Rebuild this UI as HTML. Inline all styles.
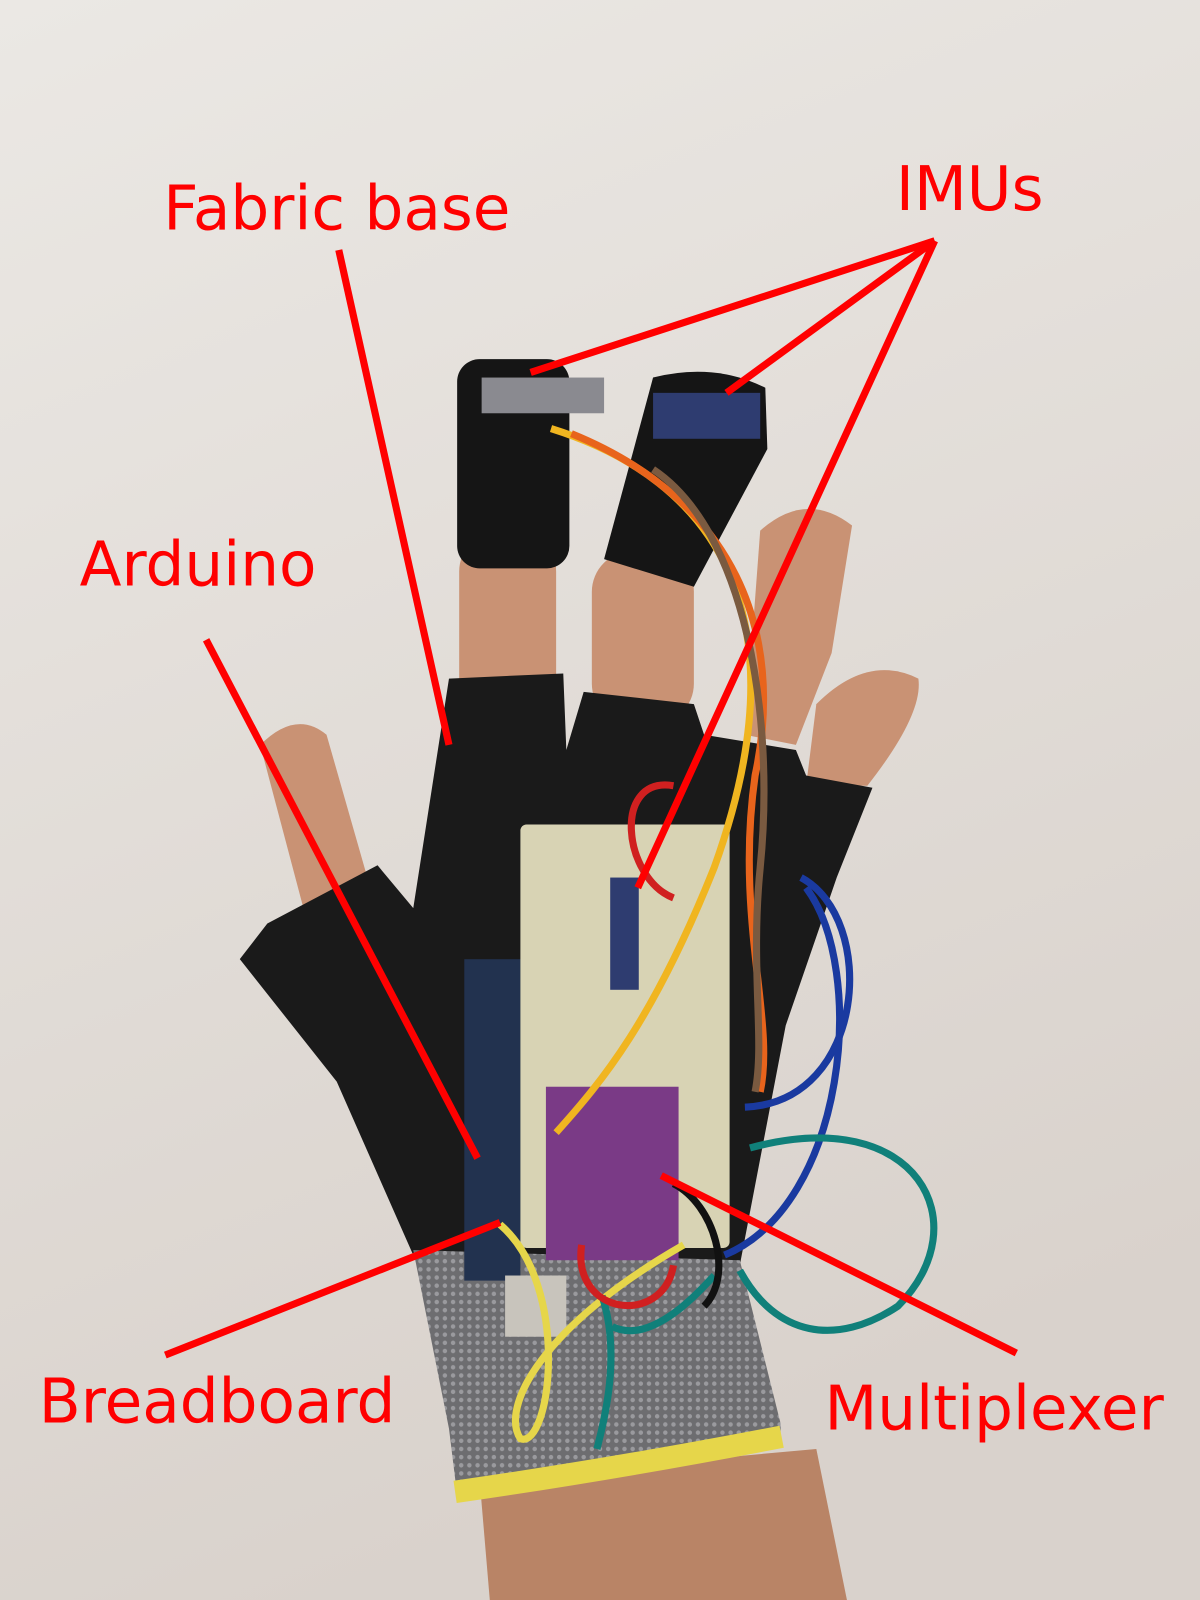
<!DOCTYPE html>
<html><head><meta charset="utf-8"><style>
html,body{margin:0;padding:0;background:#e6e2dd;}
svg{display:block}
.lbl{font-family:"DejaVu Sans","Liberation Sans",sans-serif;font-size:60px;fill:#ff0000}
</style></head><body>
<svg width="1200" height="1600" viewBox="0 0 1176 1568" preserveAspectRatio="none">
<defs>
<linearGradient id="bg" x1="0" y1="0" x2="0.3" y2="1">
<stop offset="0" stop-color="#ebe8e4"/><stop offset="1" stop-color="#d9d2cc"/></linearGradient>
<pattern id="knit" width="8" height="8" patternUnits="userSpaceOnUse">
<rect width="8" height="8" fill="#6d6d70"/><circle cx="4" cy="4" r="2.2" fill="#9a9a9e"/></pattern>
</defs>
<rect width="1176" height="1568" fill="url(#bg)"/>
<path d="M470,1450 L800,1420 L830,1568 L480,1568 Z" fill="#b98466"/>
<g fill="#c99274">
<rect x="450" y="520" width="95" height="190" rx="40"/>
<rect x="580" y="540" width="100" height="170" rx="40"/>
<path d="M745,520 Q790,480 835,515 L815,640 L780,730 L730,720 Z"/>
<path d="M800,690 Q850,640 900,665 Q905,700 850,770 L790,770 Z"/>
<path d="M255,730 Q290,695 320,720 L360,860 L300,900 Z"/>
</g>
<rect x="448" y="352" width="110" height="205" rx="22" fill="#151515"/>
<path d="M640,370 Q700,355 750,380 L752,440 L680,575 L592,548 Z" fill="#151515"/>
<path d="M440,665 L552,660 L555,735 L572,678 L680,690 L690,720 L780,735 L790,760 L855,772 L820,860 L770,1005 L725,1240 L460,1265 L405,1230 L330,1060 L235,940 L262,905 L370,848 L405,890 Z" fill="#1a1a1a"/>
<path d="M405,1225 L725,1235 L765,1395 L765,1415 L448,1465 L440,1400 Z" fill="url(#knit)"/>
<path d="M446,1462 Q600,1440 766,1408" stroke="#e6d64a" stroke-width="22" fill="none"/>
<rect x="455" y="940" width="55" height="315" fill="#22324f"/>
<rect x="510" y="808" width="205" height="415" rx="6" fill="#d8d3b4"/>
<rect x="535" y="1065" width="130" height="170" fill="#7a3a86"/>
<rect x="495" y="1250" width="60" height="60" fill="#c8c4bc"/>
<rect x="472" y="370" width="120" height="35" fill="#8a8a90"/>
<rect x="640" y="385" width="105" height="45" fill="#2e3c70"/>
<rect x="598" y="860" width="28" height="110" fill="#2e3c70"/>
<g fill="none" stroke-width="7">
<path d="M540,420 C700,470 790,600 700,850 C640,1000 590,1060 545,1110" stroke="#f0b520"/>
<path d="M560,425 C720,490 770,620 740,760 C720,900 760,1000 745,1070" stroke="#e8641c"/>
<path d="M640,460 C730,520 760,700 745,850 C735,950 750,1020 740,1070" stroke="#7a5a40"/>
<path d="M660,770 C600,760 610,860 660,880" stroke="#d02020"/>
<path d="M785,860 C860,900 850,1080 730,1085" stroke="#1a3aa0"/>
<path d="M790,870 C850,950 830,1180 710,1230" stroke="#1a3aa0"/>
<path d="M735,1125 C900,1080 960,1200 880,1280 C820,1320 760,1310 725,1245" stroke="#10807a"/>
<path d="M490,1200 C560,1260 540,1420 510,1410 C490,1380 530,1300 670,1220" stroke="#e6d64a"/>
<path d="M590,1270 C610,1330 590,1400 585,1420 M600,1300 C640,1320 690,1260 700,1250" stroke="#10807a"/>
<path d="M570,1220 C560,1290 650,1300 660,1240" stroke="#d02020"/>
<path d="M660,1160 C700,1180 720,1250 690,1280" stroke="#111"/>
</g>
<g stroke="#ff0000" stroke-width="7" fill="none">
<line x1="332" y1="245" x2="440" y2="730"/>
<line x1="916" y1="236" x2="520" y2="365"/>
<line x1="916" y1="236" x2="712" y2="385"/>
<line x1="916" y1="236" x2="625" y2="870"/>
<line x1="202" y1="627" x2="468" y2="1135"/>
<line x1="162" y1="1328" x2="490" y2="1198"/>
<line x1="996" y1="1326" x2="648" y2="1152"/>
</g>
<text class="lbl" x="160" y="225">Fabric base</text>
<text class="lbl" x="878" y="206">IMUs</text>
<text class="lbl" x="78" y="574">Arduino</text>
<text class="lbl" x="38" y="1394">Breadboard</text>
<text class="lbl" x="808" y="1401">Multiplexer</text>
</svg>
</body></html>
